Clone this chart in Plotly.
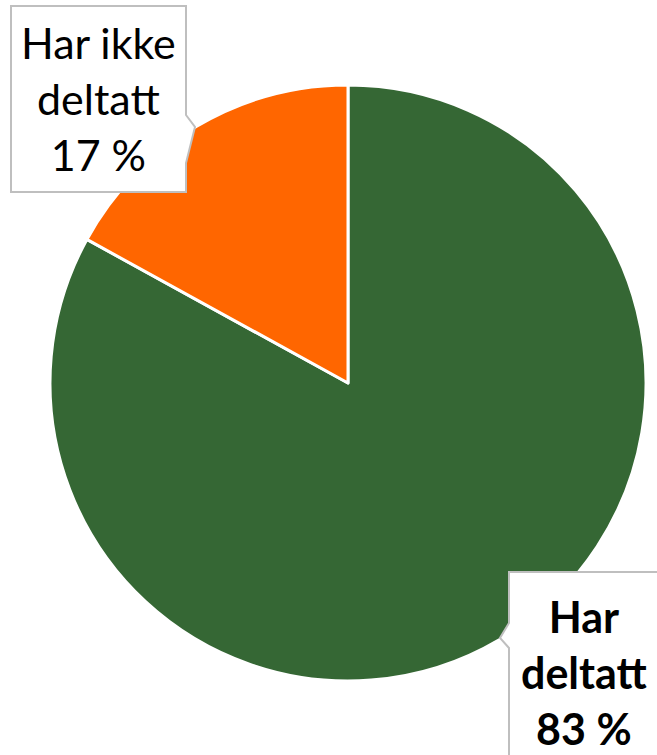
import plotly.graph_objects as go

labels = ["Har deltatt", "Har ikke deltatt"]
values = [83, 17]
colors = ["#356734", "#FF6600"]
label_text = ["<b>Har<br>deltatt<br>83 %</b>", "Har ikke<br>deltatt<br>17 %"]

W, H = 657, 755
cx, cy, r = 348, 383, 298

fig = go.Figure(go.Pie(
    labels=labels, values=values, sort=False, direction="clockwise",
    rotation=0, textinfo="none", hoverinfo="label+percent",
    marker=dict(colors=colors, line=dict(color="white", width=3)),
    domain=dict(x=[(cx - r) / W, (cx + r) / W], y=[1 - (cy + r) / H, 1 - (cy - r) / H]),
    showlegend=False,
))

def px(x):
    return x / W

def py(y):
    return 1 - y / H

def poly(pts):
    return "M " + " L ".join(f"{px(x)} {py(y)}" for x, y in pts) + " Z"

# callout boxes with pointers
callouts = [
    [(509, 572), (662, 572), (662, 762), (509, 762), (509, 648), (500, 638), (509, 623)],
    [(11, 6), (186, 6), (186, 115), (195, 127), (186, 163), (186, 192), (11, 192)],
]
for pts in callouts:
    fig.add_shape(type="path", xref="paper", yref="paper", path=poly(pts),
                  fillcolor="white", line=dict(color="#BFBFBF", width=2), layer="above")

boxes = [
    dict(x0=509, y0=572, w=150, h=200),
    dict(x0=11, y0=6, w=175, h=186),
]
for txt, b in zip(label_text, boxes):
    fig.add_annotation(
        x=px(b["x0"] + b["w"] / 2), y=py(b["y0"] + b["h"] / 2), xref="paper", yref="paper",
        xanchor="center", yanchor="middle", showarrow=False,
        text=txt, align="center",
        font=dict(family="Lato", size=43, color="black"),
    )

fig.update_layout(width=W, height=H, margin=dict(l=0, r=0, t=0, b=0),
                  paper_bgcolor="white", plot_bgcolor="white")
fig.write_html("out.html", config={"displayModeBar": False},
               post_script="document.body.style.margin='0';")
